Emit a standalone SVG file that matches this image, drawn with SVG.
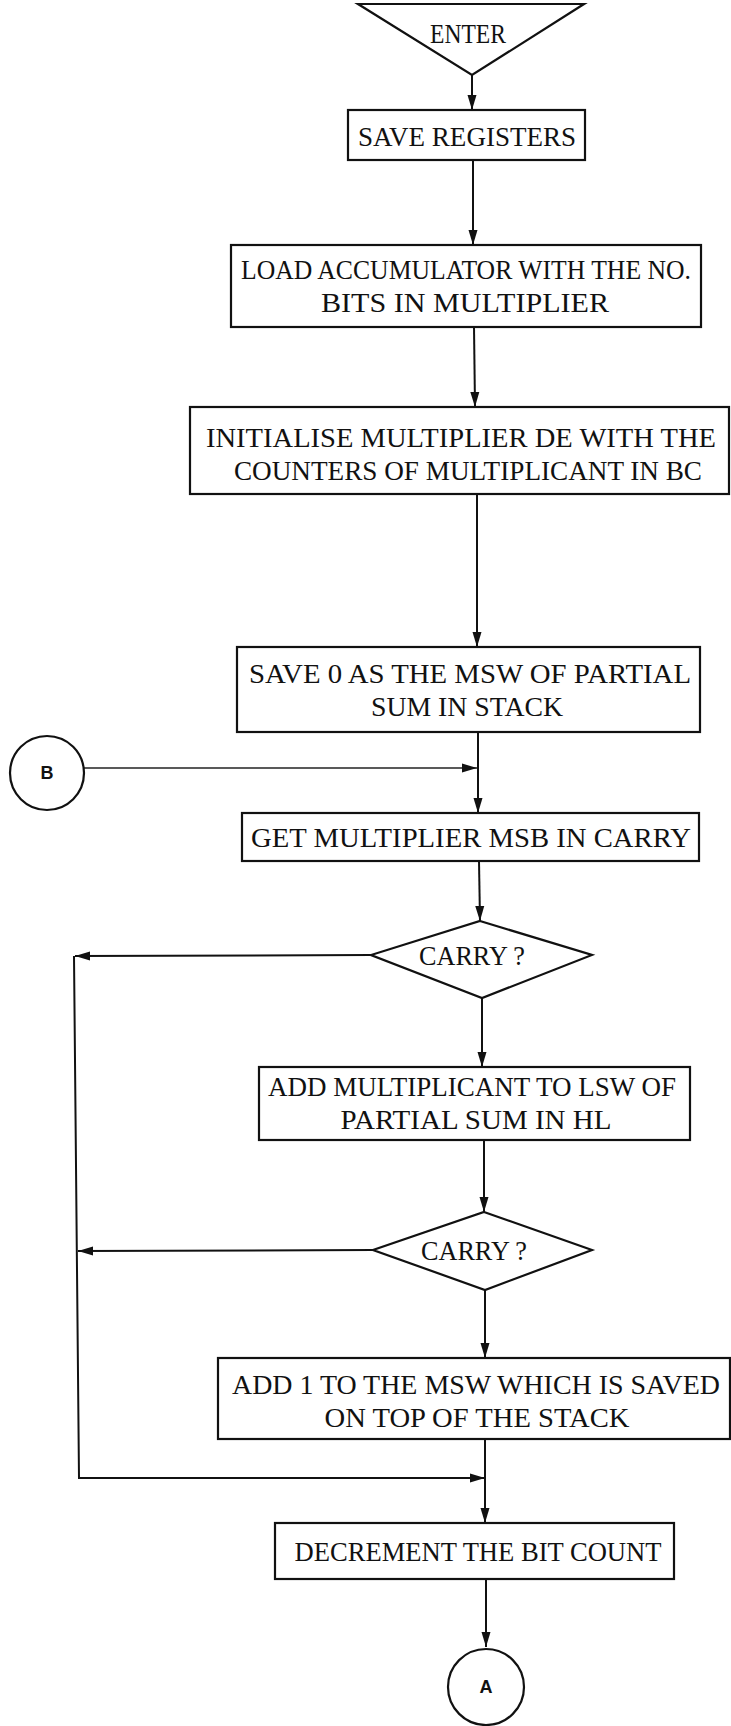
<svg xmlns="http://www.w3.org/2000/svg" width="731" height="1726" viewBox="0 0 731 1726">
<defs>
<style>
.box{fill:#fff;stroke:#111;stroke-width:2.2}
.t{font-family:"Liberation Serif","Times New Roman",serif;font-size:28px;fill:#111}
.c{font-family:"Liberation Sans",Arial,sans-serif;font-weight:bold;font-size:18px;fill:#111}
.ln{fill:none;stroke:#111;stroke-width:2}
.thin{fill:none;stroke:#222;stroke-width:1.4}
</style>
<marker id="ah" markerUnits="userSpaceOnUse" markerWidth="16" markerHeight="10" refX="15" refY="5" orient="auto">
<path d="M0,0.5 L15,5 L0,9.5 z" fill="#111"/>
</marker>
</defs>
<rect width="731" height="1726" fill="#fff"/>
<g id="connectors">
<path class="ln" d="M472,75 L472,110" marker-end="url(#ah)"/>
<path class="ln" d="M473,160 L473,245" marker-end="url(#ah)"/>
<path class="ln" d="M474,327 L475,407" marker-end="url(#ah)"/>
<path class="ln" d="M477,494 L477,647" marker-end="url(#ah)"/>
<path class="thin" d="M84,768 L477,768" marker-end="url(#ah)"/>
<path class="ln" d="M478,732 L478,813" marker-end="url(#ah)"/>
<path class="ln" d="M479,861 L480,921" marker-end="url(#ah)"/>
<path class="ln" d="M371,955 L75,956" marker-end="url(#ah)"/>
<path class="ln" d="M482,998 L482,1067" marker-end="url(#ah)"/>
<path class="ln" d="M484,1140 L484,1212" marker-end="url(#ah)"/>
<path class="ln" d="M373,1250 L78,1251" marker-end="url(#ah)"/>
<path class="ln" d="M485,1290 L485,1358" marker-end="url(#ah)"/>
<path class="ln" d="M74,956 L79,1478 L485,1478" marker-end="url(#ah)"/>
<path class="ln" d="M485,1439 L485,1523" marker-end="url(#ah)"/>
<path class="ln" d="M486,1579 L486,1647" marker-end="url(#ah)"/>
</g>
<g id="enter">
<polygon class="box" points="358,4 584,4 472,75"/>
<text class="t" x="468" y="43" text-anchor="middle" textLength="76" lengthAdjust="spacingAndGlyphs">ENTER</text>
</g>
<g id="save-registers">
<rect class="box" x="348" y="110" width="237" height="50"/>
<text class="t" x="467" y="146" text-anchor="middle" textLength="218" lengthAdjust="spacingAndGlyphs">SAVE REGISTERS</text>
</g>
<g id="load-acc">
<rect class="box" x="231" y="245" width="470" height="82"/>
<text class="t" x="466" y="279" text-anchor="middle" textLength="450" lengthAdjust="spacingAndGlyphs">LOAD ACCUMULATOR WITH THE NO.</text>
<text class="t" x="465" y="312" text-anchor="middle" textLength="288" lengthAdjust="spacingAndGlyphs">BITS IN MULTIPLIER</text>
</g>
<g id="initialise">
<rect class="box" x="190" y="407" width="539" height="87"/>
<text class="t" x="461" y="447" text-anchor="middle" textLength="510" lengthAdjust="spacingAndGlyphs">INITIALISE MULTIPLIER DE WITH THE</text>
<text class="t" x="468" y="480" text-anchor="middle" textLength="468" lengthAdjust="spacingAndGlyphs">COUNTERS OF MULTIPLICANT IN BC</text>
</g>
<g id="save-zero">
<rect class="box" x="237" y="647" width="463" height="85"/>
<text class="t" x="470" y="683" text-anchor="middle" textLength="442" lengthAdjust="spacingAndGlyphs">SAVE 0 AS THE MSW OF PARTIAL</text>
<text class="t" x="467" y="716" text-anchor="middle" textLength="192" lengthAdjust="spacingAndGlyphs">SUM IN STACK</text>
</g>
<g id="conn-b">
<ellipse class="box" cx="47" cy="773" rx="37" ry="37"/>
<text class="c" x="47" y="779" text-anchor="middle">B</text>
</g>
<g id="get-msb">
<rect class="box" x="242" y="813" width="457" height="48"/>
<text class="t" x="471" y="847" text-anchor="middle" textLength="440" lengthAdjust="spacingAndGlyphs">GET MULTIPLIER MSB IN CARRY</text>
</g>
<g id="carry-1">
<polygon class="box" points="480,921 592,955 482,998 371,955"/>
<text class="t" x="472" y="965" text-anchor="middle" textLength="106" lengthAdjust="spacingAndGlyphs">CARRY ?</text>
</g>
<g id="add-multiplicant">
<rect class="box" x="259" y="1067" width="431" height="73"/>
<text class="t" x="472" y="1096" text-anchor="middle" textLength="408" lengthAdjust="spacingAndGlyphs">ADD MULTIPLICANT TO LSW OF</text>
<text class="t" x="476" y="1129" text-anchor="middle" textLength="271" lengthAdjust="spacingAndGlyphs">PARTIAL SUM IN HL</text>
</g>
<g id="carry-2">
<polygon class="box" points="484,1212 592,1250 485,1290 373,1250"/>
<text class="t" x="474" y="1260" text-anchor="middle" textLength="106" lengthAdjust="spacingAndGlyphs">CARRY ?</text>
</g>
<g id="add-one">
<rect class="box" x="218" y="1358" width="512" height="81"/>
<text class="t" x="476" y="1394" text-anchor="middle" textLength="488" lengthAdjust="spacingAndGlyphs">ADD 1 TO THE MSW WHICH IS SAVED</text>
<text class="t" x="477" y="1427" text-anchor="middle" textLength="305" lengthAdjust="spacingAndGlyphs">ON TOP OF THE STACK</text>
</g>
<g id="decrement">
<rect class="box" x="275" y="1523" width="399" height="56"/>
<text class="t" x="478" y="1561" text-anchor="middle" textLength="367" lengthAdjust="spacingAndGlyphs">DECREMENT THE BIT COUNT</text>
</g>
<g id="conn-a">
<ellipse class="box" cx="486" cy="1687" rx="38" ry="38"/>
<text class="c" x="486" y="1693" text-anchor="middle">A</text>
</g>
</svg>
